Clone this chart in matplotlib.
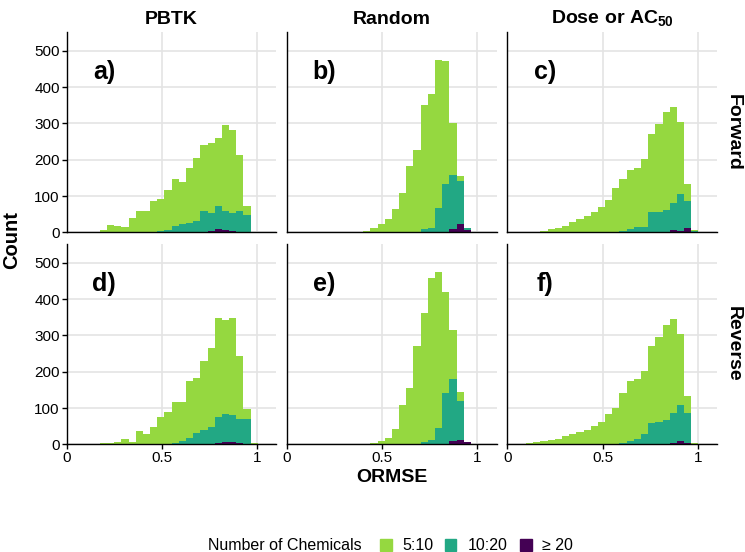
import matplotlib
matplotlib.use("Agg")
import matplotlib.pyplot as plt
import numpy as np
from matplotlib.patches import Rectangle

plt.rcParams['font.family'] = ['Liberation Sans', 'DejaVu Sans']
plt.rcParams['mathtext.fontset'] = 'custom'
plt.rcParams['mathtext.rm'] = 'Liberation Sans:bold'
plt.rcParams['mathtext.bf'] = 'Liberation Sans:bold'

# ---- data ----
BIN_START = -0.0145
BIN_WIDTH = 0.0377
N_BINS = 28

methods = ["PBTK", "Random", "Dose or AC$_{\\mathbf{50}}$"]
directions = ["Forward", "Reverse"]
panel_letters = ["a)", "b)", "c)", "d)", "e)", "f)"]
categories = ["5:10", "10:20", "\u2265 20"]
cat_colors = ["#95D840", "#22A884", "#440154"]

# counts per bin, per category (5:10, 10:20, >=20)
a_5_10 = [0,0,0,0,0,5,20,17,15,40,60,58,85,89,112,128,117,151,173,183,195,188,238,228,152,25,0,0]
a_10_20 = [0]*13 + [3,5,18,22,25,31,56,48,64,53,51,58,47,0,0]
a_20 = [0]*18 + [1,2,4,8,5,3,2,0,0,0]

b_5_10 = [0,0,0,0,0,0,0,0,1,1,1,3,13,22,37,65,108,184,226,342,368,408,338,144,16,1,0,0]
b_10_20 = [0]*19 + [8,12,68,134,147,117,7,0,0]
b_20 = [0]*23 + [10,23,5,0,0]

c_5_10 = [0,0,0,1,2,4,8,12,18,29,36,44,56,70,89,119,142,164,163,187,217,242,269,266,200,47,2,0]
c_10_20 = [0]*15 + [2,4,8,14,15,55,55,61,73,101,75,1,0]
c_20 = [0]*22 + [1,7,4,12,2,0]

d_5_10 = [0,1,1,2,2,3,3,5,14,7,38,28,49,76,90,114,107,157,150,189,219,271,259,269,174,27,3,0]
d_10_20 = [0]*15 + [3,10,18,32,40,45,73,78,74,66,68,0,0]
d_20 = [0]*20 + [2,3,5,6,4,2,0,0]

e_5_10 = [0,0,0,0,0,0,0,0,0,1,1,2,3,10,17,41,108,156,272,358,446,428,280,136,27,0,0,0]
e_10_20 = [0]*19 + [5,12,46,140,170,106,0,0,0]
e_20 = [0]*23 + [10,12,5,0,0]

f_5_10 = [0,0,0,3,5,8,12,15,22,28,33,39,51,62,83,101,136,167,166,174,211,234,261,260,196,47,2,0]
f_10_20 = [0]*16 + [4,8,14,28,60,62,65,81,100,83,1,0]
f_20 = [0]*22 + [2,4,8,4,1,0]

panels = [
    [(a_5_10, a_10_20, a_20), (b_5_10, b_10_20, b_20), (c_5_10, c_10_20, c_20)],
    [(d_5_10, d_10_20, d_20), (e_5_10, e_10_20, e_20), (f_5_10, f_10_20, f_20)],
]

x_ticks = [0, 0.5, 1]
x_ticklabels = ["0", "0.5", "1"]
y_ticks = [0, 100, 200, 300, 400, 500]

# ---- figure ----
W, H = 745, 552
fig = plt.figure(figsize=(W/100, H/100), dpi=100)

left0 = 66.7
pw = 209.5
pstep = 220.3
row_bottoms = [232.3, 444.3]
ph = 200.0

edges = BIN_START + BIN_WIDTH*np.arange(N_BINS)
grid_col = "#E4E4E4"

for r in range(2):
    for c in range(3):
        x0 = left0 + c*pstep
        ax = fig.add_axes([x0/W, 1 - row_bottoms[r]/H, pw/W, ph/H])
        g, t, p = [np.array(v, dtype=float) for v in panels[r][c]]
        ax.bar(edges, p, width=BIN_WIDTH, align='edge', color=cat_colors[2], linewidth=0, zorder=3)
        ax.bar(edges, t, width=BIN_WIDTH, bottom=p, align='edge', color=cat_colors[1], linewidth=0, zorder=3)
        ax.bar(edges, g, width=BIN_WIDTH, bottom=p+t, align='edge', color=cat_colors[0], linewidth=0, zorder=3)
        ax.set_xlim(0, 1.1)
        ax.set_ylim(0, 551)
        ax.set_xticks(x_ticks)
        ax.set_yticks(y_ticks)
        ax.grid(True, color=grid_col, linewidth=1.2, zorder=0)
        ax.set_axisbelow(True)
        for s in ["top", "right"]:
            ax.spines[s].set_visible(False)
        for s in ["left", "bottom"]:
            ax.spines[s].set_linewidth(1.0)
            ax.spines[s].set_color("black")
            ax.spines[s].set_zorder(5)
        ax.tick_params(axis='both', length=3.5, width=1.0, color='black',
                       labelsize=11, labelcolor='black', pad=1.5)
        if r == 0:
            ax.tick_params(axis='x', length=0, labelbottom=False)
        else:
            ax.set_xticklabels(x_ticklabels)
        if c != 0:
            ax.tick_params(axis='y', length=0, labelleft=False)
        ax.text(0.196, 442, panel_letters[r*3 + c], fontsize=18, fontweight='bold',
                ha='center', va='center', zorder=6)
        if r == 0:
            ax.set_title(methods[c], fontsize=14, fontweight='bold', pad=6)
        if c == 2:
            ax.text(1.04, 0.5, directions[r], transform=ax.transAxes, rotation=-90,
                    fontsize=14, fontweight='bold', ha='left', va='center')

# axis labels
fig.text(12/W, 1 - 240/H, "Count", rotation=90, fontsize=14.5, fontweight='bold',
         ha='center', va='center')
fig.text(391.7/W, 1 - 477/H, "ORMSE", fontsize=14, fontweight='bold',
         ha='center', va='center')

# legend
ly = 1 - 545/H
fig.text(208/W, ly, "Number of Chemicals", fontsize=11.5, ha='left', va='center')
key_x = [380, 445, 520]
text_x = [402, 468, 542]
for i in range(3):
    fig.patches.append(Rectangle((key_x[i]/W, ly - 5.5/H), 11.5/W, 11.5/H,
                                 transform=fig.transFigure, color=cat_colors[i]))
    fig.text(text_x[i]/W, ly, categories[i], fontsize=11.5, ha='left', va='center')

fig.savefig("out.png", dpi=100)
